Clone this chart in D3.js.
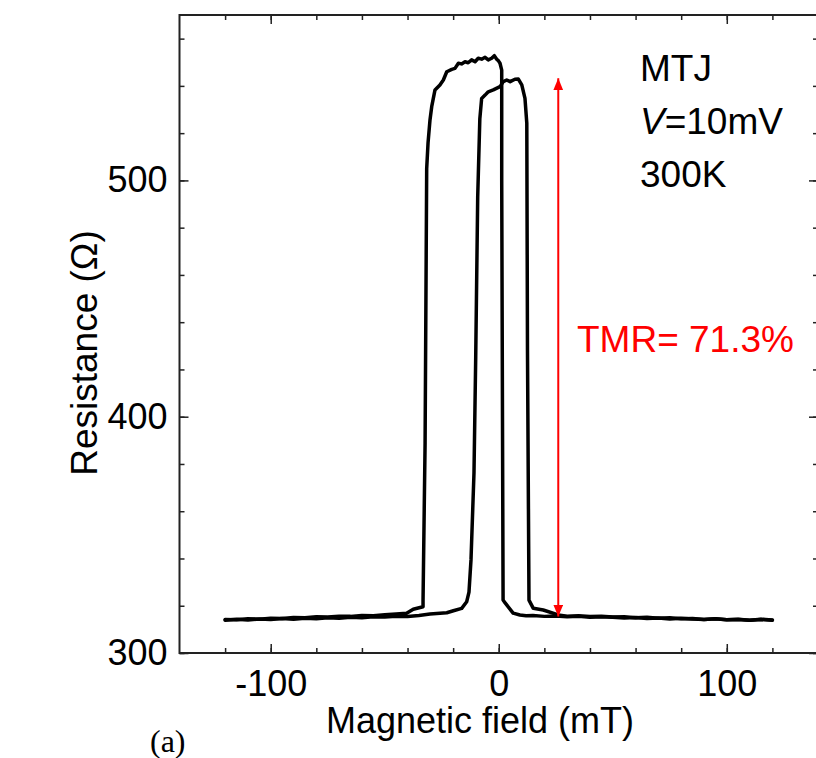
<!DOCTYPE html>
<html>
<head>
<meta charset="utf-8">
<script src="https://cdn.jsdelivr.net/npm/d3@7"></script>
<style>
    body { margin: 0; background: #fff; }
    text { font-family: "Liberation Sans", Arial, sans-serif; fill: #000; }
</style>
</head>
<body>
<div id="vis"></div>
<script>
// sweep from +120 mT down to -120 mT (left, taller loop)
var downBranch = [
    [120, 314.0], [115, 314.3], [110, 313.9], [105, 314.2], [100, 314.1], [95, 314.5],
    [90, 314.2], [85, 314.4], [80, 314.7], [75, 314.4], [70, 314.8], [65, 314.6],
    [60, 315.0], [55, 314.8], [50, 315.1], [45, 315.3], [40, 315.1], [35, 315.5],
    [30, 315.3], [25, 315.7], [20, 315.5], [15, 315.9], [12, 315.8], [9.3, 316.1],
    [6.3, 316.9], [2.8, 321.2], [1.9, 322.4], [1.3, 500.2], [1.3, 546.7], [0.55, 549.6],
    [-0.2, 550.7], [-0.9, 551.3], [-1.95, 552.8], [-3.1, 551.7], [-4.6, 551.0], [-6.0, 552.1],
    [-7.5, 551.3], [-9.0, 551.7], [-10.4, 550.2], [-11.9, 551.0], [-13.4, 549.8], [-14.8, 550.2],
    [-16.3, 549.3], [-17.7, 549.6], [-19.2, 547.4], [-20.6, 547.0], [-22.8, 546.0], [-24.3, 542.5],
    [-25.8, 540.4], [-27.96, 538.3], [-29.4, 531.2], [-30.15, 525.6], [-31.0, 516.0], [-31.6, 505.0],
    [-32.3, 388.9], [-33.2, 322.4], [-33.2, 319.6], [-37.5, 318.5], [-40.4, 316.8], [-45, 316.5],
    [-50, 316.2], [-55, 315.8], [-60, 315.9], [-65, 315.5], [-70, 315.6], [-75, 315.2],
    [-80, 315.3], [-85, 314.9], [-90, 315.0], [-95, 314.6], [-100, 314.7], [-105, 314.3],
    [-110, 314.5], [-115, 314.1], [-120, 314.2]
];

// sweep from -120 mT up to +120 mT (right, narrower loop)
var upBranch = [
    [-120, 313.9], [-115, 314.3], [-110, 314.0], [-105, 314.4], [-100, 314.2], [-95, 314.6],
    [-90, 314.3], [-85, 314.7], [-80, 314.5], [-75, 314.9], [-70, 314.7], [-65, 315.1],
    [-60, 314.9], [-55, 315.3], [-50, 315.2], [-45, 315.6], [-40, 315.4], [-35, 315.9],
    [-30.15, 316.5], [-22.8, 317.05], [-19.9, 317.9], [-16.25, 318.9], [-14.06, 321.7], [-13.05, 325.8],
    [-12.17, 339.4], [-10.86, 376.2], [-10.1, 425.3], [-9.23, 493.0], [-8.3, 526.0], [-7.5, 534.7],
    [-6.0, 536.1], [-4.6, 537.5], [-2.4, 538.3], [0.55, 539.7], [2.0, 541.8], [3.5, 542.5],
    [5.0, 541.8], [7.1, 542.8], [8.6, 542.9], [10.1, 540.4], [11.5, 534.7], [12.3, 524.2],
    [12.6, 428.2], [13.26, 322.4], [15.15, 318.9], [19.5, 318.2], [26.1, 316.1], [30, 315.6],
    [35, 315.8], [40, 315.4], [45, 315.6], [50, 315.2], [55, 315.3], [60, 314.9],
    [65, 315.1], [70, 314.7], [75, 314.9], [80, 314.5], [85, 314.6], [90, 314.2],
    [95, 314.5], [100, 314.1], [105, 314.3], [110, 313.9], [115, 314.2], [120, 313.9]
];

var majorFieldTicks = [-100, 0, 100];
var minorFieldTicks = [-120, -100, -80, -60, -40, -20, 0, 20, 40, 60, 80, 100, 120];
var majorResTicks = [300, 400, 500];
var minorResTicks = [300, 320, 340, 360, 380, 400, 420, 440, 460, 480, 500, 520, 540, 560];

// TMR arrow: field position and the two resistance levels
var tmrField = 26.1;
var tmrLow = 315.4;
var tmrHigh = 543.2;
var tmrLabel = 'TMR= 71.3%';
var infoLines = ['MTJ', '=10mV', '300K'];

var width = 816;
var height = 758;
var plot = {left: 179.5, right: 818, top: 15, bottom: 653};
var tickFont = 36;

var x = d3.scaleLinear().domain([-140, 140]).range([plot.left, plot.right]);
var y = d3.scaleLinear().domain([300, 570]).range([plot.bottom, plot.top]);

var svg = d3.select('#vis')
    .append('svg')
    .attr('width', width)
    .attr('height', height);

function styleAxis(g) {
    g.select('.domain').remove();
    g.selectAll('.tick line').attr('stroke', '#222').attr('stroke-width', 1.5);
    g.selectAll('.tick text')
        .style('font-size', tickFont + 'px')
        .style('font-family', '"Liberation Sans", Arial, sans-serif')
        .attr('fill', '#000');
}

// minor ticks on all four sides
svg.append('g').attr('transform', 'translate(0,' + plot.bottom + ')')
    .call(d3.axisBottom(x).tickValues(minorFieldTicks).tickSize(-5).tickFormat(''))
    .call(styleAxis);
svg.append('g').attr('transform', 'translate(0,' + plot.top + ')')
    .call(d3.axisTop(x).tickValues(minorFieldTicks).tickSize(-5).tickFormat(''))
    .call(styleAxis);
svg.append('g').attr('transform', 'translate(' + plot.left + ',0)')
    .call(d3.axisLeft(y).tickValues(minorResTicks).tickSize(-5).tickFormat(''))
    .call(styleAxis);
svg.append('g').attr('transform', 'translate(' + plot.right + ',0)')
    .call(d3.axisRight(y).tickValues(minorResTicks).tickSize(-5).tickFormat(''))
    .call(styleAxis);

// major ticks + labels
svg.append('g').attr('transform', 'translate(0,' + plot.bottom + ')')
    .call(d3.axisBottom(x).tickValues(majorFieldTicks).tickSize(-9).tickPadding(17)
        .tickFormat(function (d) { return d < 0 ? '-' + Math.abs(d) : d; }))
    .call(styleAxis);
svg.append('g').attr('transform', 'translate(0,' + plot.top + ')')
    .call(d3.axisTop(x).tickValues(majorFieldTicks).tickSize(-9).tickFormat(''))
    .call(styleAxis);
svg.append('g').attr('transform', 'translate(' + plot.left + ',0)')
    .call(d3.axisLeft(y).tickValues(majorResTicks).tickSize(-9).tickPadding(12))
    .call(styleAxis);
svg.append('g').attr('transform', 'translate(' + plot.right + ',0)')
    .call(d3.axisRight(y).tickValues(majorResTicks).tickSize(-9).tickFormat(''))
    .call(styleAxis);

// frame
svg.append('rect')
    .attr('x', plot.left)
    .attr('y', plot.top)
    .attr('width', plot.right - plot.left)
    .attr('height', plot.bottom - plot.top)
    .attr('fill', 'none')
    .attr('stroke', '#222')
    .attr('stroke-width', 2);

var line = d3.line()
    .x(function (d) { return x(d[0]); })
    .y(function (d) { return y(d[1]); });

[downBranch, upBranch].forEach(function (branch) {
    svg.append('path')
        .datum(branch)
        .attr('d', line)
        .attr('fill', 'none')
        .attr('stroke', '#000')
        .attr('stroke-width', 3.5)
        .attr('stroke-linejoin', 'round')
        .attr('stroke-linecap', 'round');
});

// red double arrow
var defs = svg.append('defs');
defs.append('marker')
    .attr('id', 'head')
    .attr('viewBox', '0 0 12 10')
    .attr('refX', 12)
    .attr('refY', 5)
    .attr('markerWidth', 12)
    .attr('markerHeight', 10)
    .attr('markerUnits', 'userSpaceOnUse')
    .attr('orient', 'auto-start-reverse')
    .append('path')
    .attr('d', 'M0,0 L12,5 L0,10 Z')
    .attr('fill', '#ff0000');

svg.append('line')
    .attr('x1', x(tmrField))
    .attr('x2', x(tmrField))
    .attr('y1', y(tmrLow))
    .attr('y2', y(tmrHigh))
    .attr('stroke', '#ff0000')
    .attr('stroke-width', 2)
    .attr('marker-start', 'url(#head)')
    .attr('marker-end', 'url(#head)');

svg.append('text')
    .attr('x', 577)
    .attr('y', 352)
    .style('font-size', '37px')
    .style('fill', '#ff0000')
    .text(tmrLabel);

// annotation block
svg.append('text').attr('x', 640).attr('y', 81).style('font-size', '37px').text(infoLines[0]);
var vText = svg.append('text').attr('x', 640).attr('y', 134).style('font-size', '37px');
vText.append('tspan').style('font-style', 'italic').text('V');
vText.append('tspan').text(infoLines[1]);
svg.append('text').attr('x', 640).attr('y', 187).style('font-size', '37px').text(infoLines[2]);

// axis titles
svg.append('text')
    .attr('x', 480)
    .attr('y', 733)
    .attr('text-anchor', 'middle')
    .style('font-size', '36px')
    .text('Magnetic field (mT)');

svg.append('text')
    .attr('transform', 'translate(97,353) rotate(-90)')
    .attr('text-anchor', 'middle')
    .style('font-size', '37px')
    .text('Resistance (\u03A9)');

svg.append('text')
    .attr('x', 150)
    .attr('y', 752)
    .style('font-family', '"Liberation Serif", "Times New Roman", serif')
    .style('font-size', '32px')
    .text('(a)');
</script>
</body>
</html>
